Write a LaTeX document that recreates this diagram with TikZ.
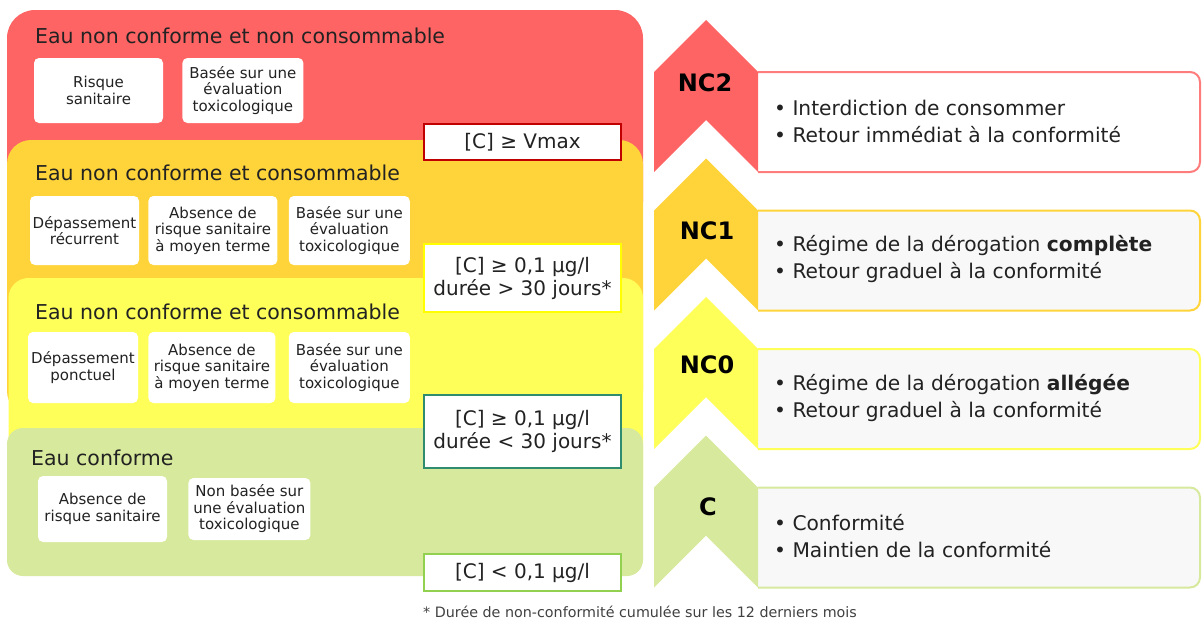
\documentclass[tikz,border=0pt]{standalone}
\usepackage{fontspec}
\setmainfont{DejaVu Sans}
\usetikzlibrary{positioning}

\definecolor{ncred}{HTML}{FF6464}
\definecolor{ncorange}{HTML}{FFD43A}
\definecolor{ncyellow}{HTML}{FFFF5A}
\definecolor{ncgreen}{HTML}{D6E99C}
\definecolor{infogrey}{HTML}{F8F8F8}
\definecolor{nc2line}{HTML}{FF7C7C}
\definecolor{vmaxred}{HTML}{C00000}
\definecolor{tealline}{HTML}{2F8C6E}
\definecolor{limeline}{HTML}{92D050}
\definecolor{pureyellow}{HTML}{FFFF00}
\definecolor{inktext}{HTML}{222222}

\newcommand{\bandtitle}{\fontsize{20.5}{24}\selectfont}
\newcommand{\boxtext}{\fontsize{15}{16.5}\selectfont}
\newcommand{\condtext}{\fontsize{20}{23}\selectfont}
\newcommand{\infotext}{\fontsize{20.2}{27}\selectfont}
\newcommand{\levtext}{\fontsize{24}{28}\selectfont\bfseries}
\newcommand{\notetext}{\fontsize{14.3}{16}\selectfont}

\tikzset{
  wbox/.style={rectangle, rounded corners=5pt, fill=white, align=center,
    font=\boxtext, inner sep=0pt, text=inktext},
  condbox/.style={rectangle, fill=white, line width=2.5pt, align=center,
    font=\condtext, minimum width=197pt, inner sep=0pt, text=inktext},
  bandhead/.style={anchor=base west, inner sep=0pt, font=\bandtitle, text=inktext},
  levlabel/.style={font=\levtext, inner sep=0pt},
  infolines/.style={anchor=west, align=left, font=\infotext, inner sep=0pt, text=inktext},
  infobox/.style={line width=2pt, rounded corners=10pt},
}

\begin{document}
\begin{tikzpicture}[x=1pt,y=-1pt]
 \useasboundingbox (0,0) rectangle (1202,622);

 % bands, back to front
 \fill[ncred, rounded corners=28pt] (7,10) rectangle (643,230);
 \fill[ncorange, rounded corners=24pt] (7,140) rectangle (643,415);
 \fill[ncyellow, rounded corners=20pt] (8.5,278) rectangle (643,500);
 \fill[ncgreen, rounded corners=16pt] (7,428) rectangle (643,576);

 \node[bandhead] (tnc2) at (35,43) {Eau non conforme et non consommable};
 \node[bandhead] (tnc1) at (35,180) {Eau non conforme et consommable};
 \node[bandhead] (tnc0) at (35,319) {Eau non conforme et consommable};
 \node[bandhead] (tc) at (31,465) {Eau conforme};

 % NC2 criteria
 \node[wbox, minimum width=129pt, minimum height=65pt] (rsan) at (98.5,90.5) {Risque\\sanitaire};
 \node[wbox, minimum width=121pt, minimum height=65pt, right=19pt of rsan] (rtox)
   {Basée sur une\\évaluation\\toxicologique};

 % NC1 criteria
 \node[wbox, minimum width=109pt, minimum height=69pt] (odep) at (84.5,230.5) {Dépassement\\récurrent};
 \node[wbox, minimum width=129pt, minimum height=69pt, right=9pt of odep] (oabs)
   {Absence de\\risque sanitaire\\à moyen terme};
 \node[wbox, minimum width=121pt, minimum height=69pt, right=11pt of oabs] (otox)
   {Basée sur une\\évaluation\\toxicologique};

 % NC0 criteria
 \node[wbox, minimum width=110pt, minimum height=71pt] (ydep) at (83,367.5) {Dépassement\\ponctuel};
 \node[wbox, minimum width=127pt, minimum height=71pt, right=10pt of ydep] (yabs)
   {Absence de\\risque sanitaire\\à moyen terme};
 \node[wbox, minimum width=121pt, minimum height=71pt, right=13pt of yabs] (ytox)
   {Basée sur une\\évaluation\\toxicologique};

 % C criteria
 \node[wbox, minimum width=129pt, minimum height=66pt] (gabs) at (102.5,509) {Absence de\\risque sanitaire};
 \node[wbox, minimum width=122pt, minimum height=62pt, right=21pt of gabs] (gtox)
   {Non basée sur\\une évaluation\\toxicologique};

 % thresholds
 \node[condbox, draw=vmaxred, minimum height=36pt] (cvmax) at (522.5,142) {[C] ≥ Vmax};
 \node[condbox, draw=pureyellow, minimum height=68pt] (clong) at (522.5,278)
   {[C] ≥ 0,1 µg/l\\durée > 30 jours*};
 \node[condbox, draw=tealline, minimum height=73pt] (cshort) at (522.5,431.5)
   {[C] ≥ 0,1 µg/l\\durée < 30 jours*};
 \node[condbox, draw=limeline, minimum height=37pt] (clow) at (522.5,572.5) {[C] < 0,1 µg/l};

 \node[anchor=west, inner sep=0pt, font=\notetext, text=black!75] (note) at (423,612)
   {* Durée de non-conformité cumulée sur les 12 derniers mois};

 % levels on the right
 \path[infobox, draw=nc2line, fill=white] (758,72) -- (1200,72) -- (1200,172) -- (758,172);
 \fill[ncred] (654,72) -- (706,20) -- (758,72) -- (758,172) -- (706,120) -- (654,172) -- cycle;
 \node[levlabel] (lnc2) at (705,83) {NC2};
 \node[infolines] (inc2) at (774,121)
   {• Interdiction de consommer\\• Retour immédiat à la conformité};

 \path[infobox, draw=ncorange, fill=infogrey] (758,210.5) -- (1200,210.5) -- (1200,310.5) -- (758,310.5);
 \fill[ncorange] (654,210.5) -- (706,158.5) -- (758,210.5) -- (758,310.5) -- (706,258.5) -- (654,310.5) -- cycle;
 \node[levlabel] (lnc1) at (707,231) {NC1};
 \node[infolines] (inc1) at (774,259.5)
   {• Régime de la dérogation \textbf{complète}\\• Retour graduel à la conformité};

 \path[infobox, draw=ncyellow, fill=infogrey] (758,349) -- (1200,349) -- (1200,449) -- (758,449);
 \fill[ncyellow] (654,349) -- (706,297) -- (758,349) -- (758,449) -- (706,397) -- (654,449) -- cycle;
 \node[levlabel] (lnc0) at (707,365) {NC0};
 \node[infolines] (inc0) at (774,398)
   {• Régime de la dérogation \textbf{allégée}\\• Retour graduel à la conformité};

 \path[infobox, draw=ncgreen, fill=infogrey] (758,487.5) -- (1200,487.5) -- (1200,587.5) -- (758,587.5);
 \fill[ncgreen] (654,487.5) -- (706,435.5) -- (758,487.5) -- (758,587.5) -- (706,535.5) -- (654,587.5) -- cycle;
 \node[levlabel] (lc) at (708,507) {C};
 \node[infolines] (ic) at (774,536.5)
   {• Conformité\\• Maintien de la conformité};

\end{tikzpicture}
\end{document}
